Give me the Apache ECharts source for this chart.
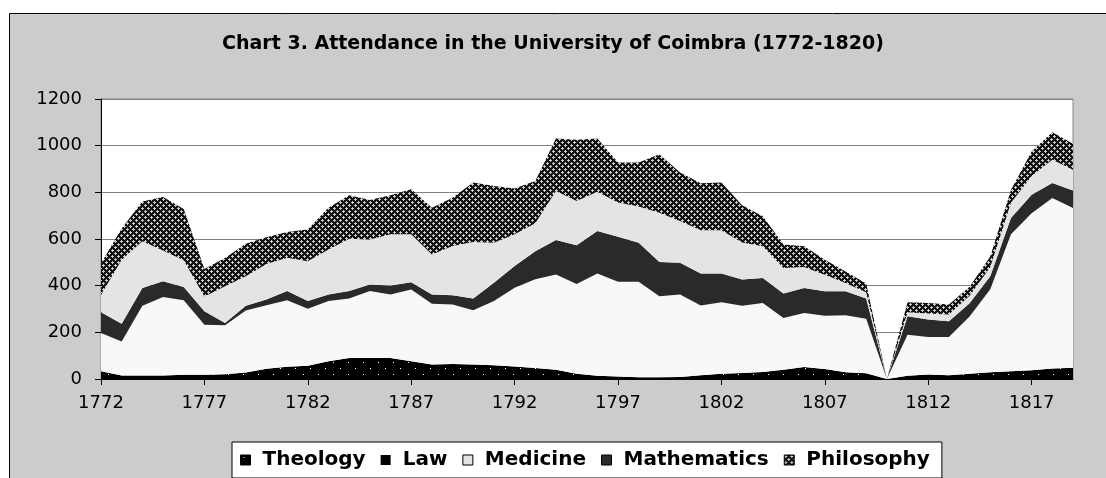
<!DOCTYPE html>
<html>
<head>
<meta charset="utf-8">
<script src="https://cdn.jsdelivr.net/npm/echarts@6/dist/echarts.min.js"></script>
<style>
  html, body { margin: 0; padding: 0; background: #fff; }
  #main { width: 1106px; height: 478px; }
</style>
</head>
<body>
<div id="main"></div>
<script>
// years on the x axis
var years = [];
for (var y = 1772; y <= 1819; y++) years.push(String(y));

// students per faculty
var theology = [33, 15, 15, 15, 18, 18, 20, 28, 44, 52, 57, 76, 90, 90, 90, 76, 62, 64, 62, 59, 54, 47, 40, 23, 14, 11, 8, 7, 9, 16, 23, 26, 30, 40, 51, 43, 29, 25, 0, 14, 19, 16, 23, 29, 33, 37, 45, 48];
var law = [164, 146, 299, 336, 319, 215, 210, 266, 272, 286, 244, 258, 255, 287, 272, 308, 260, 255, 233, 275, 337, 380, 408, 384, 438, 406, 409, 348, 353, 299, 306, 288, 296, 221, 232, 228, 244, 233, 0, 176, 161, 164, 245, 356, 587, 673, 731, 685];
var medicine = [89, 76, 76, 68, 57, 57, 10, 20, 25, 39, 33, 28, 32, 28, 39, 31, 40, 40, 50, 78, 93, 121, 148, 166, 182, 193, 167, 146, 136, 137, 123, 112, 107, 105, 107, 105, 103, 87, 0, 79, 75, 68, 57, 55, 70, 80, 64, 75];
var mathematics = [75, 274, 200, 132, 115, 64, 157, 126, 152, 143, 171, 193, 224, 193, 219, 205, 172, 211, 242, 172, 136, 119, 210, 190, 168, 146, 155, 212, 179, 186, 186, 159, 136, 110, 90, 71, 35, 27, 0, 17, 26, 28, 32, 40, 65, 80, 100, 89];
var philosophy = [134, 134, 171, 229, 220, 117, 122, 140, 114, 110, 136, 179, 186, 169, 167, 193, 200, 207, 255, 243, 196, 182, 225, 262, 229, 172, 189, 250, 208, 201, 204, 160, 128, 100, 89, 64, 50, 37, 0, 43, 45, 43, 38, 45, 55, 105, 117, 111];

var yTicks = [0, 1200, 200]; // min, max, step

// small canvas tiles for the hatched fills
function makeTile(w, h, bg, fg, pts) {
    var c = document.createElement('canvas');
    c.width = w; c.height = h;
    var ctx = c.getContext('2d');
    ctx.fillStyle = bg;
    ctx.fillRect(0, 0, w, h);
    ctx.fillStyle = fg;
    pts.forEach(function (p) { ctx.fillRect(p[0], p[1], 1, 1); });
    return c;
}
var dotTile = makeTile(15, 12, '#000', '#fff', [[3, 2], [10, 8]]);
var hatchTile = makeTile(6, 6, '#111', '#c8c8c8', [
    [1, 0], [0, 1], [1, 1], [2, 1], [1, 2],
    [4, 3], [3, 4], [4, 4], [5, 4], [4, 5]
]);
var dotFill = { image: dotTile, repeat: 'repeat' };
var hatchFill = { image: hatchTile, repeat: 'repeat' };

function areaSeries(name, data, fill) {
    return {
        name: name,
        type: 'line',
        stack: 'total',
        data: data,
        showSymbol: false,
        symbol: 'none',
        lineStyle: { width: 0 },
        areaStyle: { color: fill, opacity: 1 },
        itemStyle: { color: typeof fill === 'string' ? fill : '#000' },
        emphasis: { disabled: true }
    };
}

var font = 'DejaVu Sans';
var myChart = echarts.init(document.getElementById('main'), null, { renderer: 'canvas' });
myChart.setOption({
    animation: false,
    backgroundColor: '#fff',
    graphic: [{
        type: 'rect',
        z: -10,
        shape: { x: 9.5, y: 13.5, width: 1110, height: 480 },
        style: { fill: '#cccccc', stroke: '#000', lineWidth: 1 }
    }],
    title: {
        text: 'Chart 3. Attendance in the University of Coimbra (1772-1820)',
        left: 'center',
        top: 30,
        textStyle: { fontFamily: font, fontWeight: 'bold', fontSize: 19, color: '#000' }
    },
    legend: {
        left: 232,
        top: 442,
        padding: [8, 12, 8, 8],
        backgroundColor: '#fff',
        borderColor: '#000',
        borderWidth: 1,
        itemWidth: 10,
        itemHeight: 10,
        itemGap: 15,
        icon: 'rect',
        textStyle: { fontFamily: font, fontWeight: 'bold', fontSize: 20, color: '#000', padding: [0, 0, 0, 7] },
        data: [
            { name: 'Theology', itemStyle: { color: dotFill, borderColor: '#000', borderWidth: 1 } },
            { name: 'Law', itemStyle: { color: '#000' } },
            { name: 'Medicine', itemStyle: { color: '#e4e4e4', borderColor: '#000', borderWidth: 1 } },
            { name: 'Mathematics', itemStyle: { color: '#2a2a2a', borderColor: '#000', borderWidth: 1 } },
            { name: 'Philosophy', itemStyle: { color: hatchFill, borderColor: '#000', borderWidth: 1 } }
        ]
    },
    grid: {
        left: 101,
        right: 33,
        top: 99,
        bottom: 99,
        show: true,
        backgroundColor: '#fff',
        borderColor: '#888',
        borderWidth: 1
    },
    xAxis: {
        type: 'category',
        boundaryGap: false,
        data: years,
        axisLine: { lineStyle: { color: '#000', width: 1 } },
        axisTick: { interval: 4, length: 6, lineStyle: { color: '#000' } },
        axisLabel: { interval: 4, margin: 15, fontFamily: font, fontSize: 18, color: '#000' },
        splitLine: { show: false }
    },
    yAxis: {
        type: 'value',
        min: yTicks[0],
        max: yTicks[1],
        interval: yTicks[2],
        axisLine: { show: true, lineStyle: { color: '#000', width: 1 } },
        axisTick: { show: true, length: 6, lineStyle: { color: '#000' } },
        axisLabel: {
            margin: 19, fontFamily: font, fontSize: 18, color: '#000',
            formatter: function (v) { return String(v); }
        },
        splitLine: { lineStyle: { color: '#808080', width: 1 } }
    },
    series: [
        areaSeries('Theology', theology, dotFill),
        areaSeries('Law', law, '#f8f8f8'),
        areaSeries('Medicine', medicine, '#2a2a2a'),
        areaSeries('Mathematics', mathematics, '#e4e4e4'),
        areaSeries('Philosophy', philosophy, hatchFill)
    ]
});
</script>
</body>
</html>
